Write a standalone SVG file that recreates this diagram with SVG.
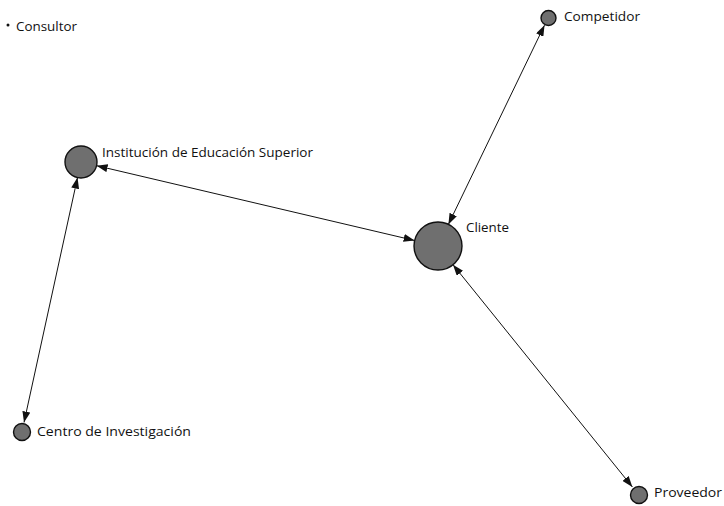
<svg xmlns="http://www.w3.org/2000/svg" width="724" height="506" viewBox="0 0 724 506">
<style>
.node{fill:#6f6f6f;stroke:#111;stroke-width:1.4}
.lbl{font-family:"Open Sans","Liberation Sans",sans-serif;font-size:13px;fill:#111}
.edge{stroke:#111;stroke-width:1;fill:none;marker-start:url(#ah);marker-end:url(#ah)}
</style>
<defs>
<marker id="ah" viewBox="0 0 11 8" refX="11" refY="4" markerWidth="11" markerHeight="8" markerUnits="userSpaceOnUse" orient="auto-start-reverse">
<path d="M0,0 L11,4 L0,8 Z" fill="#111"/>
</marker>
</defs>
<rect width="724" height="506" fill="#fff"/>
<g id="connectors">
<line class="edge" x1="544.5" y1="25.2" x2="448.4" y2="224.4"/>
<line class="edge" x1="96.6" y1="165.7" x2="414.6" y2="240.5"/>
<line class="edge" x1="77.5" y1="177.6" x2="24" y2="422.5"/>
<line class="edge" x1="453" y1="264.7" x2="632.4" y2="487"/>
</g>
<g id="consultor">
<circle cx="8" cy="25" r="1.5" fill="#111"/>
<text class="lbl" x="16" y="31" textLength="61" lengthAdjust="spacingAndGlyphs">Consultor</text>
</g>
<g id="competidor">
<circle class="node" cx="548.5" cy="18" r="7.5"/>
<text class="lbl" x="564" y="21" textLength="76" lengthAdjust="spacingAndGlyphs">Competidor</text>
</g>
<g id="institucion">
<circle class="node" cx="81" cy="162" r="16"/>
<text class="lbl" x="102" y="157" textLength="211" lengthAdjust="spacingAndGlyphs">Institución de Educación Superior</text>
</g>
<g id="cliente">
<circle class="node" cx="438" cy="246" r="24"/>
<text class="lbl" x="466" y="232" textLength="43" lengthAdjust="spacingAndGlyphs">Cliente</text>
</g>
<g id="centro">
<circle class="node" cx="22" cy="432" r="8.5"/>
<text class="lbl" x="37" y="436" textLength="154" lengthAdjust="spacingAndGlyphs">Centro de Investigación</text>
</g>
<g id="proveedor">
<circle class="node" cx="639" cy="495" r="8.5"/>
<text class="lbl" x="654" y="497" textLength="68" lengthAdjust="spacingAndGlyphs">Proveedor</text>
</g>
</svg>
